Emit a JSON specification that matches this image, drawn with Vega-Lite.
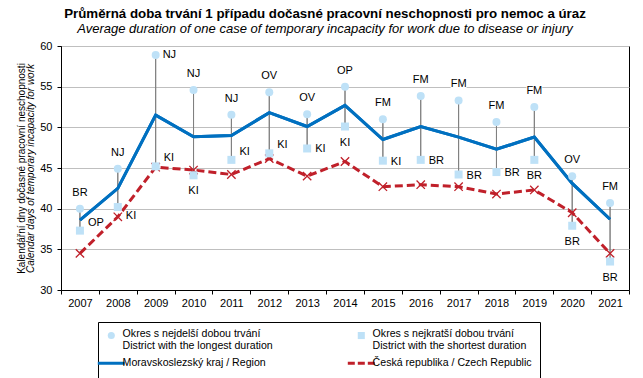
{
  "$schema": "https://vega.github.io/schema/vega-lite/v6.json",
  "autosize": {"type": "none"},
  "width": 568,
  "height": 244,
  "padding": {"left": 61, "top": 46, "right": 14, "bottom": 88},
  "background": "white",
  "title": {
    "text": "Průměrná doba trvání 1 případu dočasné pracovní neschopnosti  pro nemoc a úraz",
    "subtitle": "Average duration of one case of temporary incapacity for work due to disease or injury",
    "fontSize": 13.3,
    "fontWeight": "bold",
    "subtitleFontSize": 13,
    "subtitleFontStyle": "italic",
    "subtitleColor": "black",
    "color": "black",
    "anchor": "middle",
    "frame": "group",
    "dx": -20,
    "offset": 4,
    "subtitlePadding": 3
  },
  "data": {
    "values": [
      {"year": "2007", "longest": 40.0, "ld": "BR", "shortest": 37.3, "sd": "OP", "region": 38.6, "cr": 34.5},
      {"year": "2008", "longest": 44.9, "ld": "NJ", "shortest": 40.2, "sd": "KI", "region": 42.5, "cr": 39.0},
      {"year": "2009", "longest": 58.9, "ld": "NJ", "shortest": 45.2, "sd": "KI", "region": 51.5, "cr": 45.1},
      {"year": "2010", "longest": 54.6, "ld": "NJ", "shortest": 44.1, "sd": "KI", "region": 48.85, "cr": 44.75},
      {"year": "2011", "longest": 51.55, "ld": "NJ", "shortest": 46.0, "sd": "KI", "region": 49.0, "cr": 44.2},
      {"year": "2012", "longest": 54.3, "ld": "OV", "shortest": 46.8, "sd": "KI", "region": 51.8, "cr": 46.15},
      {"year": "2013", "longest": 51.6, "ld": "OV", "shortest": 47.4, "sd": "KI", "region": 50.1, "cr": 44.0},
      {"year": "2014", "longest": 55.0, "ld": "OP", "shortest": 50.1, "sd": "KI", "region": 52.7, "cr": 45.8},
      {"year": "2015", "longest": 51.0, "ld": "FM", "shortest": 45.9, "sd": "KI", "region": 48.5, "cr": 42.7},
      {"year": "2016", "longest": 53.85, "ld": "FM", "shortest": 46.0, "sd": "BR", "region": 50.1, "cr": 42.95},
      {"year": "2017", "longest": 53.3, "ld": "FM", "shortest": 44.2, "sd": "BR", "region": 48.8, "cr": 42.7},
      {"year": "2018", "longest": 50.65, "ld": "FM", "shortest": 44.5, "sd": "BR", "region": 47.3, "cr": 41.8},
      {"year": "2019", "longest": 52.5, "ld": "FM", "shortest": 46.0, "sd": "BR", "region": 48.8, "cr": 42.3},
      {"year": "2020", "longest": 44.0, "ld": "OV", "shortest": 37.9, "sd": "BR", "region": 43.1, "cr": 39.5},
      {"year": "2021", "longest": 40.7, "ld": "FM", "shortest": 33.5, "sd": "BR", "region": 38.7, "cr": 34.5}
    ]
  },
  "resolve": {"axis": {"y": "independent"}},
  "layer": [
    {
      "mark": {"type": "rule", "color": "#808080", "strokeWidth": 1},
      "encoding": {
        "x": {
          "field": "year", "type": "ordinal", "bandPosition": 0.5,
          "scale": {"type": "band", "paddingInner": 0, "paddingOuter": 0},
          "axis": {"title": null, "tickBand": "extent", "labelAngle": 0, "domainColor": "black", "tickColor": "black", "tickSize": 4, "labelPadding": 3, "labelFontSize": 11, "labelColor": "black", "grid": false}
        },
        "y": {
          "field": "longest", "type": "quantitative",
          "scale": {"domain": [30, 60], "nice": false, "zero": false},
          "axis": {"orient": "left", "values": [30, 35, 40, 45, 50, 55, 60], "grid": true, "gridColor": "#BFBFBF", "domainColor": "black", "tickColor": "black", "tickSize": 4, "labelPadding": 5, "labelFontSize": 11, "labelColor": "black", "title": "Calendar days of temporary incapacity for work", "titleFontStyle": "italic", "titleFontWeight": "normal", "titleFontSize": 10, "titleColor": "black", "titlePadding": 4}
        },
        "y2": {"field": "shortest"}
      }
    },
    {
      "mark": {"type": "line", "strokeWidth": 3},
      "encoding": {
        "x": {"field": "year", "type": "ordinal", "bandPosition": 0.5},
        "y": {"field": "region", "type": "quantitative",
          "axis": {"orient": "left", "title": "Kalendářní dny dočasné pracovní neschopnosti", "labels": false, "ticks": false, "domain": false, "grid": false, "titleFontStyle": "normal", "titleFontWeight": "normal", "titleFontSize": 10, "titleColor": "black", "titlePadding": 35}},
        "color": {
          "datum": "C",
          "scale": {"domain": ["A", "B", "C", "D"], "range": ["#BEE1F7", "#BEE1F7", "#0070C0", "#C0202A"]},
          "legend": {
            "title": null,
            "orient": "none",
            "legendX": 37,
            "legendY": 276,
            "direction": "horizontal",
            "columns": 2,
            "columnPadding": 68,
            "rowPadding": 5,
            "symbolSize": 729,
            "symbolType": "stroke",
            "labelFontSize": 10.6,
            "labelColor": "black",
            "labelLimit": 400,
            "labelOffset": 6,
            "strokeColor": "black",
            "fillColor": "white",
            "padding": 8,
            "labelExpr": "datum.value === 'A' ? ['Okres s nejdelší dobou trvání', 'District with the longest duration'] : datum.value === 'B' ? ['Okres s nejkratší dobou trvání', 'District with the shortest duration'] : datum.value === 'C' ? 'Moravskoslezský kraj / Region' : 'Česká republika / Czech Republic'",
            "encode": {
              "labels": {
                "update": {
                  "dy": {"signal": "datum.value === 'A' || datum.value === 'B' ? -2 : 0"}
                }
              },
              "symbols": {
                "update": {
                  "shape": {"signal": "datum.value === 'A' ? 'circle' : datum.value === 'B' ? 'square' : 'stroke'"},
                  "size": {"signal": "datum.value === 'A' || datum.value === 'B' ? 50 : 729"},
                  "fill": {"signal": "datum.value === 'A' || datum.value === 'B' ? '#BEE1F7' : 'transparent'"},
                  "strokeWidth": {"signal": "datum.value === 'A' || datum.value === 'B' ? 0 : 3"},
                  "strokeDash": {"signal": "datum.value === 'D' ? [7, 3] : [1, 0]"},
                  "opacity": {"value": 1}
                }
              }
            }
          }
        }
      }
    },
    {
      "transform": [{"filter": "datum.year !== '2009'"}],
      "mark": {"type": "point", "shape": "M-1.33,-1H1.33V1H-1.33Z", "size": 144, "filled": true, "color": "white", "opacity": 1, "yOffset": -16},
      "encoding": {
        "x": {"field": "year", "type": "ordinal", "bandPosition": 0.5},
        "y": {"field": "longest", "type": "quantitative", "axis": null}
      }
    },
    {
      "transform": [{"filter": "datum.year === '2009'"}],
      "mark": {"type": "point", "shape": "M-1.33,-1H1.33V1H-1.33Z", "size": 144, "filled": true, "color": "white", "opacity": 1, "xOffset": 14},
      "encoding": {
        "x": {"field": "year", "type": "ordinal", "bandPosition": 0.5},
        "y": {"field": "longest", "type": "quantitative", "axis": null}
      }
    },
    {
      "transform": [{"filter": "indexof(['2007', '2009', '2011', '2012'], datum.year) >= 0"}],
      "mark": {"type": "point", "shape": "M-1.33,-1H1.33V1H-1.33Z", "size": 144, "filled": true, "color": "white", "opacity": 1, "xOffset": 15, "yOffset": -8},
      "encoding": {
        "x": {"field": "year", "type": "ordinal", "bandPosition": 0.5},
        "y": {"field": "shortest", "type": "quantitative", "axis": null}
      }
    },
    {
      "transform": [{"filter": "indexof(['2013', '2015', '2016', '2017', '2018'], datum.year) >= 0"}],
      "mark": {"type": "point", "shape": "M-1.33,-1H1.33V1H-1.33Z", "size": 144, "filled": true, "color": "white", "opacity": 1, "xOffset": 15, "yOffset": 1},
      "encoding": {
        "x": {"field": "year", "type": "ordinal", "bandPosition": 0.5},
        "y": {"field": "shortest", "type": "quantitative", "axis": null}
      }
    },
    {
      "transform": [{"filter": "indexof(['2010', '2014', '2019', '2020', '2021'], datum.year) >= 0"}],
      "mark": {"type": "point", "shape": "M-1.33,-1H1.33V1H-1.33Z", "size": 144, "filled": true, "color": "white", "opacity": 1, "yOffset": 16},
      "encoding": {
        "x": {"field": "year", "type": "ordinal", "bandPosition": 0.5},
        "y": {"field": "shortest", "type": "quantitative", "axis": null}
      }
    },
    {
      "mark": {"type": "rule", "color": "#808080", "strokeWidth": 1},
      "encoding": {
        "x": {"field": "year", "type": "ordinal", "bandPosition": 0.5},
        "y": {"field": "longest", "type": "quantitative", "axis": null},
        "y2": {"field": "shortest"}
      }
    },
    {
      "mark": {"type": "line", "strokeWidth": 3, "color": "#0070C0"},
      "encoding": {
        "x": {"field": "year", "type": "ordinal", "bandPosition": 0.5},
        "y": {"field": "region", "type": "quantitative", "axis": null}
      }
    },
    {
      "mark": {"type": "line", "strokeWidth": 3, "strokeDash": [8, 4]},
      "encoding": {
        "x": {"field": "year", "type": "ordinal", "bandPosition": 0.5},
        "y": {"field": "cr", "type": "quantitative", "axis": null},
        "color": {"datum": "D"}
      }
    },
    {
      "mark": {"type": "point", "shape": "M-1,-1L1,1M-1,1L1,-1", "filled": false, "color": "#C0202A", "strokeWidth": 1.3, "size": 70, "opacity": 1},
      "encoding": {
        "x": {"field": "year", "type": "ordinal", "bandPosition": 0.5},
        "y": {"field": "cr", "type": "quantitative", "axis": null}
      }
    },
    {
      "mark": {"type": "point", "shape": "circle", "filled": true, "size": 64, "opacity": 1},
      "encoding": {
        "x": {"field": "year", "type": "ordinal", "bandPosition": 0.5},
        "y": {"field": "longest", "type": "quantitative", "axis": null},
        "color": {"datum": "A"}
      }
    },
    {
      "mark": {"type": "point", "shape": "square", "filled": true, "size": 64, "opacity": 1},
      "encoding": {
        "x": {"field": "year", "type": "ordinal", "bandPosition": 0.5},
        "y": {"field": "shortest", "type": "quantitative", "axis": null},
        "color": {"datum": "B"}
      }
    },
    {
      "transform": [{"filter": "datum.year !== '2009'"}],
      "mark": {"type": "text", "dy": -16, "fontSize": 11, "color": "black"},
      "encoding": {
        "x": {"field": "year", "type": "ordinal", "bandPosition": 0.5},
        "y": {"field": "longest", "type": "quantitative", "axis": null},
        "text": {"field": "ld"}
      }
    },
    {
      "transform": [{"filter": "datum.year === '2009'"}],
      "mark": {"type": "text", "align": "left", "dx": 7, "fontSize": 11, "color": "black"},
      "encoding": {
        "x": {"field": "year", "type": "ordinal", "bandPosition": 0.5},
        "y": {"field": "longest", "type": "quantitative", "axis": null},
        "text": {"field": "ld"}
      }
    },
    {
      "transform": [{"filter": "indexof(['2007', '2009', '2011', '2012'], datum.year) >= 0"}],
      "mark": {"type": "text", "align": "left", "dx": 8, "dy": -8, "fontSize": 11, "color": "black"},
      "encoding": {
        "x": {"field": "year", "type": "ordinal", "bandPosition": 0.5},
        "y": {"field": "shortest", "type": "quantitative", "axis": null},
        "text": {"field": "sd"}
      }
    },
    {
      "transform": [{"filter": "indexof(['2013', '2015', '2016', '2017', '2018'], datum.year) >= 0"}],
      "mark": {"type": "text", "align": "left", "dx": 8, "dy": 1, "fontSize": 11, "color": "black"},
      "encoding": {
        "x": {"field": "year", "type": "ordinal", "bandPosition": 0.5},
        "y": {"field": "shortest", "type": "quantitative", "axis": null},
        "text": {"field": "sd"}
      }
    },
    {
      "transform": [{"filter": "datum.year === '2008'"}],
      "mark": {"type": "text", "align": "left", "dx": 8, "dy": 9, "fontSize": 11, "color": "black"},
      "encoding": {
        "x": {"field": "year", "type": "ordinal", "bandPosition": 0.5},
        "y": {"field": "shortest", "type": "quantitative", "axis": null},
        "text": {"field": "sd"}
      }
    },
    {
      "transform": [{"filter": "indexof(['2010', '2014', '2019', '2020', '2021'], datum.year) >= 0"}],
      "mark": {"type": "text", "dy": 16, "fontSize": 11, "color": "black"},
      "encoding": {
        "x": {"field": "year", "type": "ordinal", "bandPosition": 0.5},
        "y": {"field": "shortest", "type": "quantitative", "axis": null},
        "text": {"field": "sd"}
      }
    }
  ],
  "config": {
    "font": "Liberation Sans",
    "view": {"stroke": "black", "strokeWidth": 1},
    "axis": {"labelFont": "Liberation Sans", "titleFont": "Liberation Sans"},
    "legend": {"labelFont": "Liberation Sans"}
  }
}
